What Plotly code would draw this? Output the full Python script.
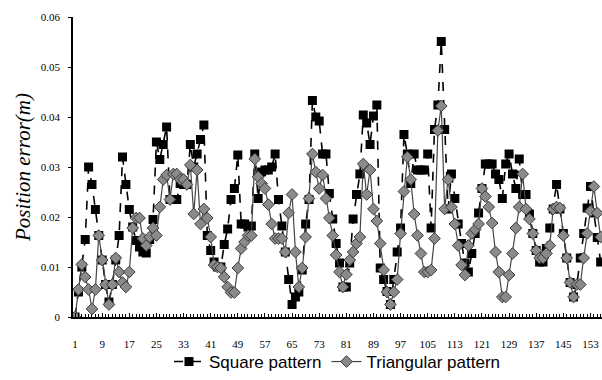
import plotly.graph_objects as go

x_index = list(range(1, 157))

square_pattern = [
    0.000, 0.005, 0.010, 0.0155, 0.030, 0.0265, 0.0215, 0.0163, 0.0114, 0.0065,
    0.003, 0.0065, 0.0114, 0.0163, 0.032, 0.0265, 0.0215, 0.018, 0.0153, 0.014,
    0.013, 0.0128, 0.0155, 0.0195, 0.035, 0.0315, 0.0345, 0.038, 0.0235, 0.0235,
    0.0235, 0.0267, 0.0265, 0.0265, 0.0345, 0.030, 0.0326, 0.0355, 0.0384, 0.0163,
    0.0133, 0.011, 0.010, 0.010, 0.0145, 0.0176, 0.0235, 0.0257, 0.0324, 0.0186,
    0.0186, 0.018, 0.0182, 0.0326, 0.0237, 0.029, 0.0294, 0.0294, 0.030, 0.0326,
    0.0235, 0.0182, 0.013, 0.0075, 0.0025, 0.004, 0.005, 0.0094, 0.0186, 0.0235,
    0.0433, 0.040, 0.0392, 0.0326, 0.0326, 0.0247, 0.0196, 0.0147, 0.0108, 0.006,
    0.006, 0.0108, 0.0196, 0.0245, 0.0286, 0.0404, 0.0388, 0.0345, 0.0402, 0.0424,
    0.0098, 0.0075, 0.0051, 0.0025, 0.0075, 0.013, 0.0178, 0.0365, 0.0326, 0.0267,
    0.0326, 0.0294, 0.0294, 0.0294, 0.0326, 0.0178, 0.0375, 0.0424, 0.0551, 0.0375,
    0.0216, 0.0286, 0.0237, 0.0186, 0.0147, 0.0108, 0.009, 0.0127, 0.0167, 0.0208,
    0.0257, 0.0306, 0.0306, 0.0306, 0.0286, 0.0275, 0.0237, 0.0306, 0.0326, 0.0286,
    0.0257, 0.0316, 0.0245, 0.0245, 0.0206, 0.0167, 0.0133, 0.011, 0.011, 0.0137,
    0.0178, 0.0216, 0.0265, 0.0216, 0.0167, 0.0118, 0.0069, 0.004, 0.0065, 0.0118,
    0.0167, 0.0218, 0.0261, 0.0208, 0.0159, 0.011,
]

triangular_pattern = [
    0.000, 0.0055, 0.0105, 0.008, 0.0055, 0.0016, 0.0055, 0.0163, 0.0114, 0.0065,
    0.0025, 0.0065, 0.0118, 0.009, 0.0069, 0.006, 0.009, 0.0178, 0.0198, 0.0198,
    0.0157, 0.0143, 0.016, 0.0178, 0.0163, 0.022, 0.0275, 0.0284, 0.0235, 0.0286,
    0.0286, 0.0275, 0.0275, 0.0265, 0.0304, 0.0206, 0.0294, 0.0186, 0.0216, 0.0198,
    0.016, 0.0104, 0.010, 0.0098, 0.008, 0.006, 0.0049, 0.0049, 0.0098, 0.0137,
    0.015, 0.0163, 0.0163, 0.0316, 0.028, 0.0267, 0.0257, 0.0225, 0.0186, 0.0157,
    0.0157, 0.0157, 0.013, 0.0208, 0.0245, 0.013, 0.006, 0.0098, 0.016, 0.0237,
    0.0326, 0.029, 0.0257, 0.0284, 0.0237, 0.0198, 0.0163, 0.0124, 0.009, 0.006,
    0.0085, 0.0114, 0.013, 0.0147, 0.016, 0.0306, 0.0245, 0.0294, 0.0216, 0.0192,
    0.0147, 0.0094, 0.005, 0.0025, 0.005, 0.0075, 0.0167, 0.0251, 0.032, 0.0275,
    0.0206, 0.0163, 0.0127, 0.009, 0.009, 0.0094, 0.0157, 0.0373, 0.0422, 0.0216,
    0.0275, 0.022, 0.0186, 0.0143, 0.0104, 0.0084, 0.0143, 0.0167, 0.0175, 0.0186,
    0.0257, 0.0241, 0.022, 0.0188, 0.013, 0.009, 0.004, 0.004, 0.0084, 0.0127,
    0.0178, 0.022, 0.0286, 0.0216, 0.0196, 0.0167, 0.0133, 0.0118, 0.0118, 0.0127,
    0.0143, 0.0216, 0.022, 0.0218, 0.0163, 0.0118, 0.0069, 0.004, 0.0065, 0.0065,
    0.0118, 0.0167, 0.0212, 0.0261, 0.0208, 0.016,
]

y_ticks = [0, 0.01, 0.02, 0.03, 0.04, 0.05, 0.06]
y_tick_labels = ["0", "0.01", "0.02", "0.03", "0.04", "0.05", "0.06"]

fig = go.Figure()
fig.add_trace(go.Scatter(
    x=x_index, y=square_pattern, name="Square pattern", mode="lines+markers",
    line=dict(color="black", width=1.6, dash="dash"),
    marker=dict(symbol="square", size=9, color="black"),
))
fig.add_trace(go.Scatter(
    x=x_index, y=triangular_pattern, name="Triangular pattern", mode="lines+markers",
    line=dict(color="#444444", width=1.2),
    marker=dict(symbol="diamond", size=9, color="#8a8a8a",
                line=dict(color="#3a3a3a", width=1)),
))

fig.update_layout(
    width=602, height=380,
    margin=dict(l=73, r=0, t=17, b=57),
    paper_bgcolor="white", plot_bgcolor="white",
    showlegend=True,
    legend=dict(orientation="h", x=0.5, xanchor="center", y=-0.15, yanchor="middle",
                bgcolor="rgba(0,0,0,0)",
                font=dict(family="Liberation Sans", size=17, color="black"),
                itemwidth=30, tracegroupgap=0),
    xaxis=dict(range=[0.4, 156.4], tick0=1, dtick=8, showgrid=False, zeroline=False,
               showline=True, linecolor="black", linewidth=1.5,
               ticks="inside", ticklen=4, tickcolor="black",
               minor=dict(dtick=1, tick0=1, ticks="inside", ticklen=3, tickcolor="black"),
               ticklabelstandoff=16,
               tickfont=dict(family="Liberation Serif", size=11, color="black")),
    yaxis=dict(range=[0, 0.06], tickvals=y_ticks, ticktext=y_tick_labels,
               showgrid=False, zeroline=False,
               showline=True, linecolor="black", linewidth=1.5,
               ticks="outside", ticklen=3, tickcolor="black",
               ticklabelstandoff=6,
               tickfont=dict(family="Liberation Serif", size=11, color="black"),
               title=dict(text="<i>Position error(m)</i>", standoff=4,
                          font=dict(family="Liberation Serif", size=21, color="black"))),
)

fig.write_html("out.html")
